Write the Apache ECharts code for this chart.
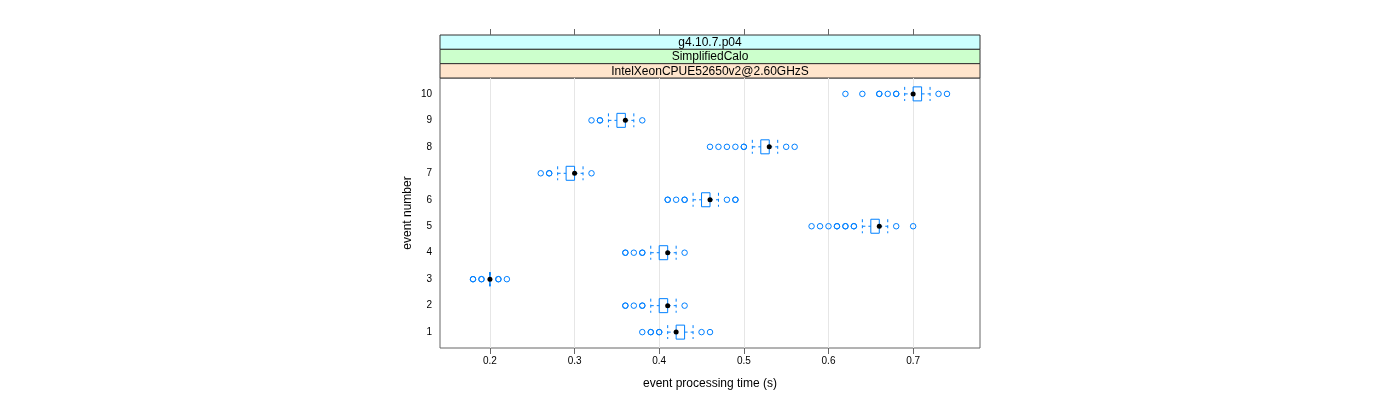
<!DOCTYPE html>
<html>
<head>
<meta charset="utf-8">
<script src="https://cdn.jsdelivr.net/npm/echarts@6/dist/echarts.min.js"></script>
<style>html,body{margin:0;padding:0;background:#fff}#c{width:1400px;height:400px}</style>
</head>
<body>
<div id="c"></div>
<script>
// ---- data ----
const events = [1, 2, 3, 4, 5, 6, 7, 8, 9, 10];
const whiskerLow  = [0.41, 0.39, 0.20, 0.39, 0.64, 0.44, 0.28, 0.51, 0.34, 0.69];
const quart1      = [0.42, 0.40, 0.20, 0.40, 0.65, 0.45, 0.29, 0.52, 0.35, 0.70];
const medians     = [0.42, 0.41, 0.20, 0.41, 0.66, 0.46, 0.30, 0.53, 0.36, 0.70];
const quart3      = [0.43, 0.41, 0.20, 0.41, 0.66, 0.46, 0.30, 0.53, 0.36, 0.71];
const whiskerHigh = [0.44, 0.42, 0.20, 0.42, 0.67, 0.47, 0.31, 0.54, 0.37, 0.72];
const outliers = [
  [0.38, 0.39, 0.39, 0.40, 0.40, 0.45, 0.46],
  [0.36, 0.36, 0.37, 0.38, 0.38, 0.43],
  [0.18, 0.18, 0.19, 0.19, 0.21, 0.21, 0.22],
  [0.36, 0.36, 0.37, 0.38, 0.38, 0.43],
  [0.58, 0.59, 0.60, 0.61, 0.61, 0.62, 0.62, 0.63, 0.63, 0.68, 0.70],
  [0.41, 0.41, 0.42, 0.43, 0.43, 0.48, 0.49, 0.49],
  [0.26, 0.27, 0.27, 0.32],
  [0.46, 0.47, 0.48, 0.49, 0.50, 0.50, 0.55, 0.56],
  [0.32, 0.33, 0.33, 0.38],
  [0.62, 0.64, 0.66, 0.66, 0.67, 0.68, 0.68, 0.73, 0.74]
];
const xTicks = [0.2, 0.3, 0.4, 0.5, 0.6, 0.7];
const yTicks = [1, 2, 3, 4, 5, 6, 7, 8, 9, 10];
const stripLabels = ['g4.10.7.p04', 'SimplifiedCalo', 'IntelXeonCPUE52650v2@2.60GHzS'];
const stripColors = ['#ccffff', '#ccffcc', '#ffe5cc'];
const xTitle = 'event processing time (s)';
const yTitle = 'event number';

// ---- build ----
const BLUE = '#0080ff';
const FONT = '"Liberation Sans", Arial, sans-serif';
const boxData = events.map((e, i) => [e, whiskerLow[i], quart1[i], medians[i], quart3[i], whiskerHigh[i]]);
const outlierData = [];
outliers.forEach((arr, i) => arr.forEach(v => outlierData.push([v, events[i]])));

function renderBox(params, api) {
  const y = api.value(0);
  const pLo = api.coord([api.value(1), y]);
  const pQ1 = api.coord([api.value(2), y]);
  const pMed = api.coord([api.value(3), y]);
  const pQ3 = api.coord([api.value(4), y]);
  const pHi = api.coord([api.value(5), y]);
  const cy = pLo[1];
  const h = 7;
  const dash = { stroke: BLUE, lineWidth: 1, lineDash: [3, 3], fill: null };
  const solid = { stroke: BLUE, lineWidth: 1, fill: null };
  return {
    type: 'group',
    children: [
      { type: 'line', shape: { x1: pLo[0], y1: cy, x2: pQ1[0], y2: cy }, style: dash },
      { type: 'line', shape: { x1: pQ3[0], y1: cy, x2: pHi[0], y2: cy }, style: dash },
      { type: 'line', shape: { x1: pLo[0], y1: cy - h, x2: pLo[0], y2: cy + h }, style: dash },
      { type: 'line', shape: { x1: pHi[0], y1: cy - h, x2: pHi[0], y2: cy + h }, style: dash },
      { type: 'rect', shape: { x: pQ1[0], y: cy - h, width: pQ3[0] - pQ1[0], height: 2 * h }, style: solid },
      { type: 'circle', z2: 10, shape: { cx: pMed[0], cy: cy, r: 2.5 }, style: { fill: '#000', stroke: null } }
    ]
  };
}

const GL = 440, GT = 78, GW = 540, GH = 270;
const stripH = (GT - 35) / stripLabels.length;
const graphics = stripLabels.map((t, i) => ({
  type: 'group',
  children: [
    { type: 'rect', shape: { x: GL, y: 35 + i * stripH, width: GW, height: stripH },
      style: { fill: stripColors[i], stroke: '#333', lineWidth: 1 } },
    { type: 'text', x: GL + GW / 2, y: 35 + i * stripH + stripH / 2 + 0.5,
      style: { text: t, fill: '#000', font: '12px ' + FONT, align: 'center', verticalAlign: 'middle' } }
  ]
}));

const chart = echarts.init(document.getElementById('c'), null, { renderer: 'canvas' });
chart.setOption({
  animation: false,
  backgroundColor: '#fff',
  textStyle: { fontFamily: FONT },
  grid: { left: GL, top: GT, width: GW, height: GH, show: true, borderColor: '#666', borderWidth: 1, backgroundColor: 'transparent' },
  xAxis: [
    {
      type: 'value', min: 0.141, max: 0.779, position: 'bottom',
      axisLine: { show: false },
      axisTick: { show: true, customValues: xTicks, length: 6, lineStyle: { color: '#666' } },
      axisLabel: { customValues: xTicks, formatter: v => v.toFixed(1), fontSize: 10, color: '#000', margin: 8 },
      splitLine: { show: false },
      name: xTitle, nameLocation: 'middle', nameGap: 30,
      nameTextStyle: { fontSize: 12, color: '#000' }
    },
    {
      type: 'value', min: 0.141, max: 0.779, position: 'top', offset: GT - 35,
      axisLine: { show: false },
      axisTick: { show: true, customValues: xTicks, length: 6, lineStyle: { color: '#666' } },
      axisLabel: { show: false },
      splitLine: { show: false }
    }
  ],
  yAxis: {
    type: 'value', min: 0.4, max: 10.6,
    axisLine: { show: false },
    axisTick: { show: false },
    axisLabel: { customValues: yTicks, fontSize: 10, color: '#000', margin: 8 },
    splitLine: { show: false },
    name: yTitle, nameLocation: 'middle', nameGap: 26, nameRotate: 90,
    nameTextStyle: { fontSize: 12, color: '#000' }
  },
  graphic: graphics,
  series: [
    {
      type: 'scatter', data: [], z: 1, silent: true,
      markLine: {
        z: 1, silent: true, symbol: 'none', animation: false,
        label: { show: false },
        lineStyle: { color: '#e6e6e6', type: 'solid', width: 1 },
        data: xTicks.map(v => ({ xAxis: v }))
      }
    },
    {
      type: 'custom', z: 3, renderItem: renderBox, data: boxData,
      encode: { x: [1, 2, 3, 4, 5], y: 0 }
    },
    {
      type: 'scatter', z: 3, data: outlierData, symbol: 'circle', symbolSize: 5.5,
      itemStyle: { color: 'rgba(0,0,0,0)', borderColor: BLUE, borderWidth: 1, opacity: 1 }
    }
  ]
});
</script>
</body>
</html>
